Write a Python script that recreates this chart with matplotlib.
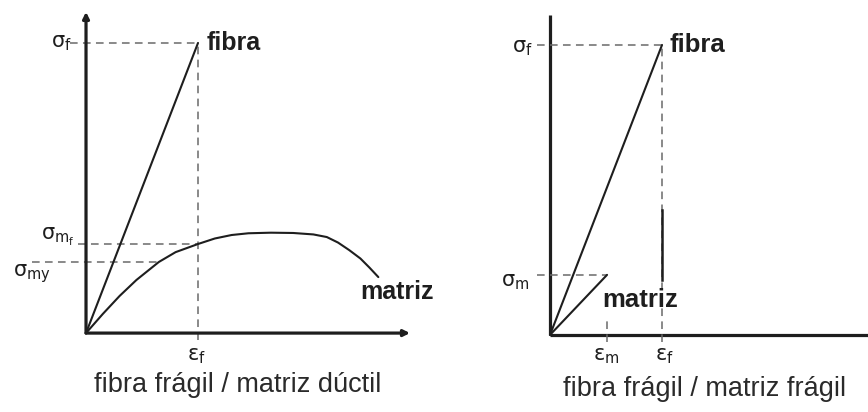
import matplotlib
matplotlib.use("Agg")
import matplotlib.pyplot as plt

plt.rcParams["font.family"] = ["Liberation Sans", "DejaVu Sans"]
plt.rcParams["mathtext.fontset"] = "dejavusans"

# Stress-strain values (normalised: fibre failure strain = 1, fibre strength = 1)
fibre_strain = [0.0, 1.0]
fibre_stress = [0.0, 1.0]

# ductile matrix: yields, hardens to a maximum, then necks down
ductile_strain = [0.0, 0.15, 0.30, 0.45, 0.65, 0.80, 1.00, 1.15, 1.30, 1.45,
                  1.65, 1.85, 2.03, 2.15, 2.25, 2.35, 2.45, 2.53, 2.61]
ductile_stress = [0.0, 0.066, 0.128, 0.183, 0.245, 0.279, 0.307, 0.326, 0.338, 0.344,
                  0.346, 0.345, 0.340, 0.331, 0.312, 0.286, 0.257, 0.226, 0.193]
sigma_my = 0.245          # matrix yield
sigma_mf = 0.307          # matrix stress at fibre failure strain

# brittle matrix: linear up to its failure point
brittle_strain = [0.0, 0.509]
brittle_stress = [0.0, 0.207]

captions = ["fibra frágil / matriz dúctil", "fibra frágil / matriz frágil"]

INK = "#1e1e1e"
DASH = "#6a6a6a"
dash_kw = dict(color=DASH, lw=1.1, ls=(0, (5, 3.5)), clip_on=False)
sym_kw = dict(fontsize=15, ha="center", va="center", color=INK)

fig = plt.figure(figsize=(8.68, 4.12), dpi=100)
axl = fig.add_axes([0, 0, 0.5, 1])
axr = fig.add_axes([0.5, 0, 0.5, 1])
axl.set_xlim(-0.768, 3.107)
axl.set_ylim(-0.272, 1.148)
axr.set_xlim(-1.036, 2.839)
axr.set_ylim(-0.266, 1.155)
for ax in (axl, axr):
    ax.axis("off")

# ---- left: brittle fibre / ductile matrix ----
ax = axl
arrow = dict(arrowstyle="-|>", lw=2.3, color=INK, mutation_scale=9, shrinkA=0, shrinkB=0)
ax.annotate("", xy=(0, 1.107), xytext=(0, 0), arrowprops=arrow)
ax.annotate("", xy=(2.893, 0), xytext=(0, 0), arrowprops=arrow)
ax.plot([-0.14, fibre_strain[1]], [fibre_stress[1]] * 2, **dash_kw)
ax.plot([fibre_strain[1]] * 2, [-0.025, fibre_stress[1]], **dash_kw)
ax.plot([-0.07, fibre_strain[1]], [sigma_mf] * 2, **dash_kw)
ax.plot([-0.48, 0.65], [sigma_my] * 2, **dash_kw)
ax.plot(fibre_strain, fibre_stress, color=INK, lw=1.5, solid_capstyle="round")
ax.plot(ductile_strain, ductile_stress, color=INK, lw=1.5,
        solid_capstyle="round", solid_joinstyle="round")

ax.text(-0.22, 1.0, r"$\mathrm{\sigma_f}$", **sym_kw)
ax.text(-0.25, 0.33, r"$\mathrm{\sigma_{m_f}}$", **sym_kw)
ax.text(-0.48, 0.205, r"$\mathrm{\sigma_{my}}$", **sym_kw)
ax.text(0.99, -0.08, r"$\mathrm{\varepsilon_f}$", **sym_kw)
ax.text(1.08, 1.0, "fibra", fontsize=18, fontweight="bold", ha="left", va="center", color=INK)
ax.text(2.45, 0.14, "matriz", fontsize=18, fontweight="bold", ha="left", va="center", color=INK)
ax.text(1.35, -0.18, captions[0], fontsize=19.5, ha="center", va="center", color="#2a2a2a")

# ---- right: brittle fibre / brittle matrix ----
ax = axr
ax.plot([0, 0], [0, 1.103], color=INK, lw=2.3, solid_capstyle="butt")
ax.plot([0, 2.839], [0, 0], color=INK, lw=2.3, solid_capstyle="butt")
ax.plot([-0.12, fibre_strain[1]], [fibre_stress[1]] * 2, **dash_kw)
ax.plot([fibre_strain[1]] * 2, [-0.025, fibre_stress[1]], **dash_kw)
ax.plot([fibre_strain[1]] * 2, [0.19, 0.43], color=INK, lw=1.8)
ax.plot([-0.12, brittle_strain[1]], [brittle_stress[1]] * 2, **dash_kw)
ax.plot([brittle_strain[1]] * 2, [-0.025, 0.05], **dash_kw)
ax.plot(fibre_strain, fibre_stress, color=INK, lw=1.5, solid_capstyle="round")
ax.plot(brittle_strain, brittle_stress, color=INK, lw=1.5, solid_capstyle="round")

ax.text(-0.25, 0.99, r"$\mathrm{\sigma_f}$", **sym_kw)
ax.text(-0.31, 0.18, r"$\mathrm{\sigma_m}$", **sym_kw)
ax.text(0.50, -0.075, r"$\mathrm{\varepsilon_m}$", **sym_kw)
ax.text(1.02, -0.075, r"$\mathrm{\varepsilon_f}$", **sym_kw)
ax.text(1.07, 1.0, "fibra", fontsize=18.5, fontweight="bold", ha="left", va="center", color=INK)
ax.text(0.47, 0.12, "matriz", fontsize=18.5, fontweight="bold", ha="left", va="center", color=INK)
ax.text(1.384, -0.185, captions[1], fontsize=19.5, ha="center", va="center", color="#2a2a2a")

fig.savefig("out.png", dpi=100, facecolor="white")
